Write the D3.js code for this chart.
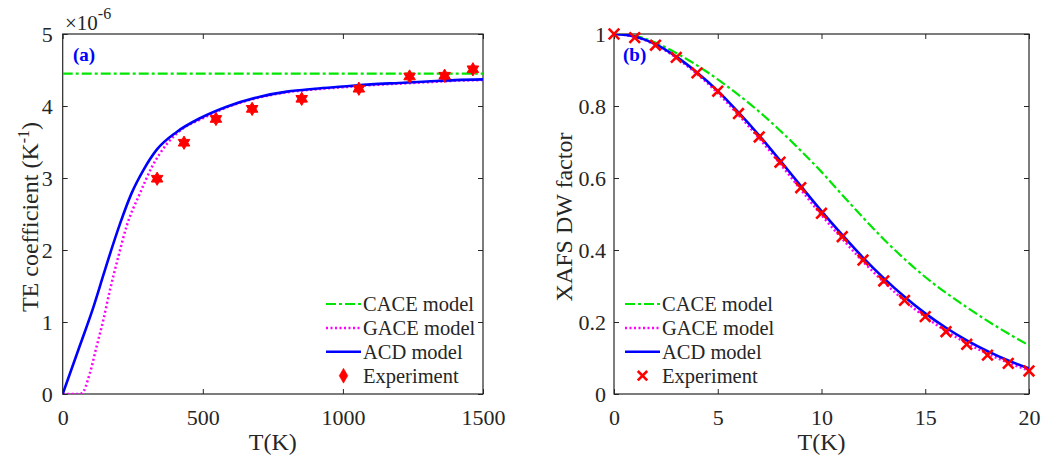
<!DOCTYPE html>
<html>
<head>
<meta charset="utf-8">
<script src="https://cdn.jsdelivr.net/npm/d3@7"></script>
<style>
  body { margin: 0; background: #fff; }
  svg text { font-family: "Liberation Serif", "Times New Roman", serif; fill: #262626; }
  .axis path, .axis line { stroke: #262626; }
</style>
</head>
<body>
<svg id="chart" width="1050" height="460"></svg>
<script>
// ---- panel (a): thermal expansion coefficient (x1e-6 K^-1) vs T(K)
var tA = [0, 62, 109, 145, 157, 205, 246, 288, 335, 407, 490, 585, 704, 800, 900, 1000, 1100, 1200, 1300, 1400, 1500];
var acdA = [0, 0.68, 1.2, 1.65, 1.8, 2.37, 2.79, 3.11, 3.39, 3.64, 3.83, 3.99, 4.13, 4.2, 4.24, 4.27, 4.3, 4.32, 4.34, 4.36, 4.37];
var tGA = [0, 50, 68, 97, 121, 145, 169, 198, 228, 276, 318, 371, 430, 490, 585, 704, 800, 900, 1000, 1100, 1200, 1300, 1400, 1500];
var gaceA = [0, 0, 0.01, 0.29, 0.66, 1.03, 1.45, 1.9, 2.33, 2.79, 3.15, 3.47, 3.69, 3.81, 3.98, 4.12, 4.19, 4.23, 4.26, 4.29, 4.31, 4.33, 4.35, 4.36];
var caceA = 4.45;
var expTA = [337, 433, 547, 676, 853, 1057, 1238, 1363, 1464];
var expA = [2.99, 3.49, 3.82, 3.96, 4.10, 4.24, 4.41, 4.42, 4.51];

// ---- panel (b): XAFS Debye-Waller factor vs T(K)
var tB = [0, 1, 2, 3, 4, 5, 6, 7, 8, 9, 10, 11, 12, 13, 14, 15, 16, 17, 18, 19, 20];
var caceB = [1.0, 0.995, 0.976, 0.947, 0.913, 0.874, 0.831, 0.784, 0.732, 0.676, 0.617, 0.553, 0.49, 0.43, 0.375, 0.325, 0.281, 0.241, 0.203, 0.168, 0.135];
var gaceB = [1.0, 0.992, 0.970, 0.934, 0.889, 0.836, 0.775, 0.710, 0.640, 0.568, 0.497, 0.431, 0.368, 0.311, 0.259, 0.214, 0.175, 0.141, 0.112, 0.087, 0.065];
var acdB = [1.0, 0.993, 0.972, 0.937, 0.893, 0.842, 0.782, 0.718, 0.649, 0.578, 0.508, 0.442, 0.379, 0.322, 0.270, 0.224, 0.184, 0.149, 0.119, 0.093, 0.071];
var expB = [1.0, 0.99, 0.969, 0.935, 0.892, 0.841, 0.779, 0.714, 0.644, 0.573, 0.502, 0.437, 0.372, 0.314, 0.260, 0.215, 0.173, 0.138, 0.108, 0.085, 0.064];

var legendNames = ["CACE model", "GACE model", "ACD model", "Experiment"];
var cGreen = "#00e600", cMag = "#ff00ff", cBlue = "#0000ff", cRed = "#ff0000";

var svg = d3.select("#chart");
var yTop = 34, yBot = 394;

// six-pointed star (hexagram) symbol
var hexagram = {
  draw: function(ctx, size) {
    var r = Math.sqrt(size) * 0.62, ri = r * 0.58;
    for (var i = 0; i < 12; i++) {
      var a = -Math.PI / 2 + i * Math.PI / 6, rr = i % 2 ? ri : r;
      if (i === 0) ctx.moveTo(rr * Math.cos(a), rr * Math.sin(a));
      else ctx.lineTo(rr * Math.cos(a), rr * Math.sin(a));
    }
    ctx.closePath();
  }
};

function panel(o) {
  var x = d3.scaleLinear().domain(o.xd).range([o.left, o.right]);
  var y = d3.scaleLinear().domain(o.yd).range([yBot, yTop]);
  var g = svg.append("g");
  var clipId = "clip" + o.id;
  g.append("clipPath").attr("id", clipId).append("rect")
    .attr("x", o.left).attr("y", yTop).attr("width", o.right - o.left).attr("height", yBot - yTop);

  // axes with inward ticks, box
  g.append("g").attr("class", "axis").attr("transform", "translate(0," + yBot + ")")
    .call(d3.axisBottom(x).tickValues(o.xt).tickSizeInner(-5).tickSizeOuter(0).tickPadding(15).tickFormat(d3.format("d")))
    .call(function(s) { s.selectAll("text").attr("font-size", 22).attr("dy", "0.71em"); });
  g.append("g").attr("class", "axis").attr("transform", "translate(0," + yTop + ")")
    .call(d3.axisTop(x).tickValues(o.xt).tickSizeInner(-5).tickSizeOuter(0).tickFormat(""));
  g.append("g").attr("class", "axis").attr("transform", "translate(" + o.left + ",0)")
    .call(d3.axisLeft(y).tickValues(o.yt).tickSizeInner(-5).tickSizeOuter(0).tickPadding(o.yPad).tickFormat(o.yf))
    .call(function(s) { s.selectAll("text").attr("font-size", 22); });
  g.append("g").attr("class", "axis").attr("transform", "translate(" + o.right + ",0)")
    .call(d3.axisRight(y).tickValues(o.yt).tickSizeInner(-5).tickSizeOuter(0).tickFormat(""));
  g.selectAll(".axis .domain").remove();
  g.append("rect").attr("x", o.left).attr("y", yTop).attr("width", o.right - o.left).attr("height", yBot - yTop)
    .attr("fill", "none").attr("stroke", "#262626").attr("stroke-width", 1.2);

  var lines = g.append("g").attr("clip-path", "url(#" + clipId + ")");
  var line = d3.line().x(function(d) { return x(d[0]); }).y(function(d) { return y(d[1]); }).curve(d3.curveMonotoneX);
  lines.append("path").datum(o.cace).attr("d", line).attr("fill", "none")
    .attr("stroke", cGreen).attr("stroke-width", 2.2).attr("stroke-dasharray", "10,3,3,3");
  lines.append("path").datum(o.gace).attr("d", line).attr("fill", "none")
    .attr("stroke", cMag).attr("stroke-width", 2.5).attr("stroke-dasharray", "2,2.5");
  lines.append("path").datum(o.acd).attr("d", line).attr("fill", "none")
    .attr("stroke", cBlue).attr("stroke-width", 2.6);

  var sym = d3.symbol().type(o.marker === "star" ? hexagram : d3.symbolX).size(o.marker === "star" ? 115 : 75);
  g.append("g").selectAll("path").data(o.exp).enter().append("path")
    .attr("transform", function(d) { return "translate(" + x(d[0]) + "," + y(d[1]) + ")"; })
    .attr("d", sym)
    .attr("fill", o.marker === "star" ? cRed : "none")
    .attr("stroke", cRed).attr("stroke-width", o.marker === "star" ? 1 : 2.6);

  // panel tag
  g.append("text").attr("x", o.tagX).attr("y", 61).text(o.tag)
    .attr("font-size", 19).attr("font-weight", "bold").style("fill", cBlue);

  // axis labels
  g.append("text").attr("x", (o.left + o.right) / 2).attr("y", 450).attr("text-anchor", "middle")
    .attr("font-size", 24).text("T(K)");
  var yl = g.append("text").attr("transform", "translate(" + o.ylX + "," + (yTop + yBot + 6) / 2 + ") rotate(-90)")
    .attr("text-anchor", "middle").attr("font-size", 24);
  o.ylab(yl);

  // legend
  var lg = g.append("g");
  var styles = [
    { c: cGreen, w: 2.2, dash: "10,3,3,3" },
    { c: cMag, w: 2.5, dash: "2,2.5" },
    { c: cBlue, w: 2.6, dash: null },
    null
  ];
  legendNames.forEach(function(n, i) {
    var yy = 304 + i * 23.9;
    var s = styles[i];
    if (s) {
      lg.append("line").attr("x1", o.legX).attr("x2", o.legX + 35).attr("y1", yy).attr("y2", yy)
        .attr("stroke", s.c).attr("stroke-width", s.w).attr("stroke-dasharray", s.dash);
    } else {
      lg.append("path").attr("transform", "translate(" + (o.legX + 17.5) + "," + yy + ")")
        .attr("d", d3.symbol().type(o.marker === "star" ? d3.symbolDiamond : d3.symbolX).size(o.marker === "star" ? 65 : 60))
        .attr("fill", o.marker === "star" ? cRed : "none").attr("stroke", cRed)
        .attr("stroke-width", o.marker === "star" ? 0.5 : 2.6);
    }
    lg.append("text").attr("x", o.legX + 37).attr("y", yy).attr("dy", "0.35em")
      .attr("font-size", 20.5).text(n);
  });
}

panel({
  id: "a", left: 62.7, right: 483, xd: [0, 1500], yd: [0, 5],
  xt: [0, 500, 1000, 1500], yt: [0, 1, 2, 3, 4, 5], yf: d3.format("d"), yPad: 10,
  cace: [[0, caceA], [1500, caceA]],
  gace: tGA.map(function(t, i) { return [t, gaceA[i]]; }),
  acd: tA.map(function(t, i) { return [t, acdA[i]]; }),
  exp: expTA.map(function(t, i) { return [t, expA[i]]; }),
  marker: "star", tag: "(a)", tagX: 73, legX: 326, ylX: 38,
  ylab: function(t) {
    t.append("tspan").text("TE coefficient (K");
    t.append("tspan").attr("dy", -9).attr("font-size", 16).text("-1");
    t.append("tspan").attr("dy", 9).text(")");
  }
});

panel({
  id: "b", left: 614, right: 1029, xd: [0, 20], yd: [0, 1],
  xt: [0, 5, 10, 15, 20], yt: [0, 0.2, 0.4, 0.6, 0.8, 1], yPad: 8,
  yf: function(d) { return d === 0 || d === 1 ? d3.format("d")(d) : d3.format(".1f")(d); },
  cace: tB.map(function(t, i) { return [t, caceB[i]]; }),
  gace: tB.map(function(t, i) { return [t, gaceB[i]]; }),
  acd: tB.map(function(t, i) { return [t, acdB[i]]; }),
  exp: tB.map(function(t, i) { return [t, expB[i]]; }),
  marker: "x", tag: "(b)", tagX: 623, legX: 625, ylX: 572,
  ylab: function(t) { t.text("XAFS DW factor"); }
});

// exponent label for panel (a)
var ex = svg.append("text").attr("x", 65).attr("y", 30).attr("font-size", 21);
ex.append("tspan").text("\u00d710");
ex.append("tspan").attr("dy", -11).attr("font-size", 16).text("-6");
</script>
</body>
</html>
